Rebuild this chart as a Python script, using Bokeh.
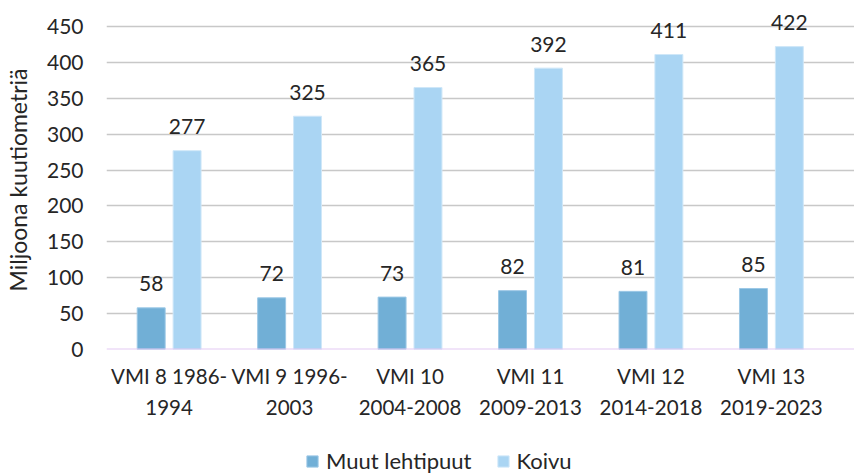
from bokeh.plotting import figure
from bokeh.layouts import column
from bokeh.models import ColumnDataSource, Range1d, FixedTicker, Span, Legend, LegendItem
from bokeh.transform import dodge
from bokeh.core.properties import value
from bokeh.embed import file_html
from bokeh.resources import INLINE

categories = ["VMI 8 1986-\n1994", "VMI 9 1996-\n2003", "VMI 10\n2004-2008",
              "VMI 11\n2009-2013", "VMI 12\n2014-2018", "VMI 13\n2019-2023"]
series_names = ["Muut lehtipuut", "Koivu"]
muut = [58, 72, 73, 82, 81, 85]
koivu = [277, 325, 365, 392, 411, 422]
y_ticks = [0, 50, 100, 150, 200, 250, 300, 350, 400, 450]

FONT = "Lato"
FS = "21px"
TXT = "#262626"
DARK = "#71afd6"
LIGHT = "#aad5f3"
DARK_EDGE = "#9cc8e6"
LIGHT_EDGE = "#cfe7f8"

idx = list(range(len(categories)))
src = ColumnDataSource(dict(
    x=idx, muut=muut, koivu=koivu,
    muut_lbl=[str(v) for v in muut], koivu_lbl=[str(v) for v in koivu],
))

p = figure(width=854, height=448, output_backend="svg", toolbar_location=None,
           x_range=Range1d(-0.52, 5.69), y_range=Range1d(0, 472.3),
           min_border_left=104, min_border_right=0, min_border_top=10,
           min_border_bottom=99)
p.outline_line_color = None
p.background_fill_color = "white"

off = 0.149
w = 0.232
r1 = p.vbar(x=dodge("x", -off, range=p.x_range), top="muut", width=w, source=src,
            fill_color=DARK, line_color=DARK_EDGE, line_width=1)
r2 = p.vbar(x=dodge("x", off, range=p.x_range), top="koivu", width=w, source=src,
            fill_color=LIGHT, line_color=LIGHT_EDGE, line_width=1)

for col, lbl, o in (("muut", "muut_lbl", -off), ("koivu", "koivu_lbl", off)):
    p.text(x=dodge("x", o, range=p.x_range), y=col, text=lbl, source=src,
           text_align="center", text_baseline="alphabetic", y_offset=-24,
           text_font=value(FONT), text_font_size=FS, text_color=TXT)

p.add_layout(Span(location=0, dimension="width", line_color="#e3c9f3", line_width=2))

p.xgrid.grid_line_color = None
p.ygrid.grid_line_color = "#c8c8c8"
p.ygrid.grid_line_width = 1.5
p.yaxis.ticker = FixedTicker(ticks=y_ticks)
p.xaxis.ticker = FixedTicker(ticks=idx)
p.xaxis.major_label_overrides = {i: c for i, c in zip(idx, categories)}

for ax in (p.xaxis[0], p.yaxis[0]):
    ax.axis_line_color = None
    ax.major_tick_line_color = None
    ax.minor_tick_line_color = None
    ax.major_tick_out = 0
    ax.major_tick_in = 0
    ax.minor_tick_out = 0
    ax.major_label_text_font = FONT
    ax.major_label_text_font_size = FS
    ax.major_label_text_color = TXT

p.xaxis.major_label_text_font_size = "20.5px"
p.yaxis.major_label_standoff = 23
p.xaxis.major_label_standoff = 14
p.xaxis.major_label_text_line_height = 1.3
p.yaxis.axis_label = "Miljoona kuutiometriä"
p.yaxis.axis_label_text_font = FONT
p.yaxis.axis_label_text_font_size = "23px"
p.yaxis.axis_label_text_font_style = "normal"
p.yaxis.axis_label_text_color = TXT
p.yaxis.axis_label_standoff = 12

# legend strip below the chart (its frame is aligned with the chart's frame)
lg = figure(width=854, height=26, output_backend="svg", toolbar_location=None,
            x_range=Range1d(0, 1), y_range=Range1d(0, 1),
            x_axis_location=None, y_axis_location=None,
            min_border_left=0, min_border_right=0, min_border_top=0, min_border_bottom=0)
lg.outline_line_color = None
lg.xgrid.grid_line_color = None
lg.ygrid.grid_line_color = None
d1 = lg.vbar(x="x", top="muut", width=w, source=src, visible=False,
             fill_color=DARK, line_color=DARK_EDGE)
d2 = lg.vbar(x="x", top="koivu", width=w, source=src, visible=False,
             fill_color=LIGHT, line_color=LIGHT_EDGE)
legend = Legend(items=[LegendItem(label=series_names[0], renderers=[d1]),
                       LegendItem(label=series_names[1], renderers=[d2])],
                orientation="horizontal", location=(199, 0), click_policy="none",
                border_line_color=None, background_fill_alpha=0,
                label_text_font=FONT, label_text_font_size="22px",
                label_text_color=TXT, glyph_width=14, glyph_height=14,
                label_standoff=7, spacing=24, padding=0, margin=0)
lg.add_layout(legend, "center")

layout = column(p, lg, spacing=0)
open("out.html", "w").write(file_html(layout, INLINE))
